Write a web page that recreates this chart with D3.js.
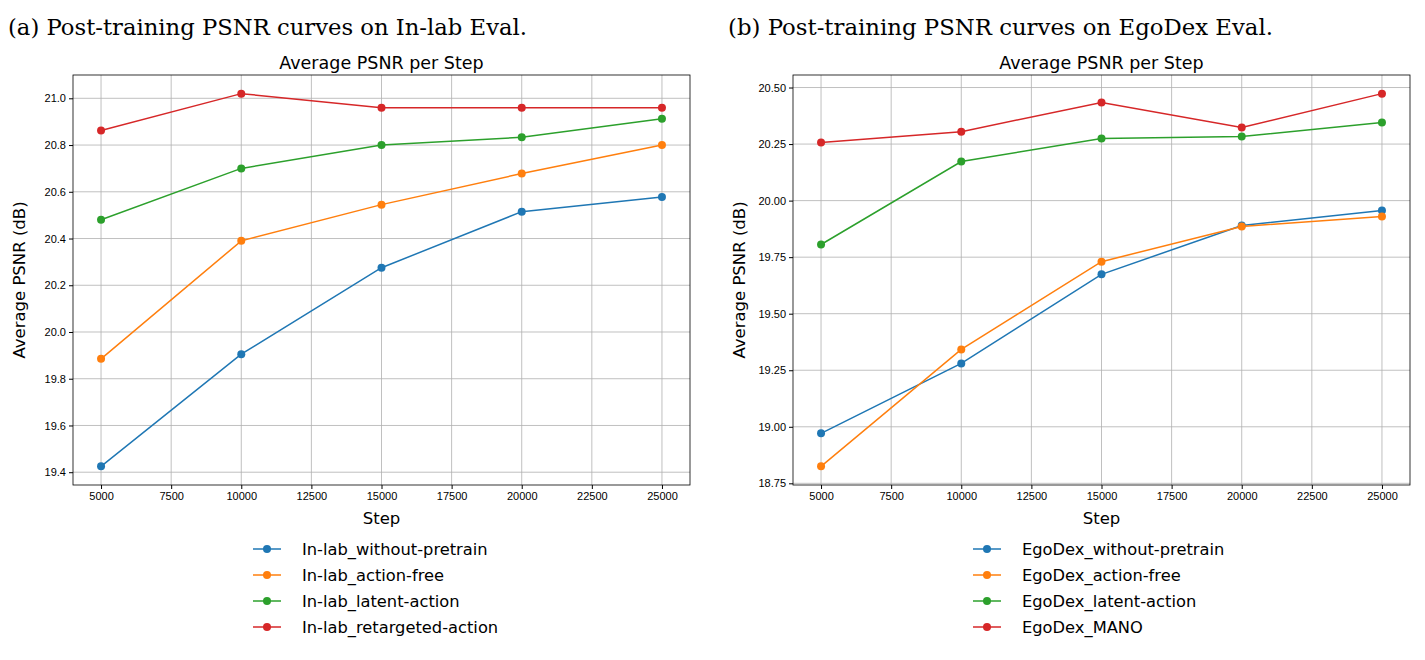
<!DOCTYPE html>
<html><head><meta charset="utf-8">
<script src="https://cdn.jsdelivr.net/npm/d3@7"></script>
<style>body{margin:0;background:#fff}</style>
</head><body>
<div class="canvas"></div>
<script>
const steps = [5000, 10000, 15000, 20000, 25000]
const xTicks = [5000, 7500, 10000, 12500, 15000, 17500, 20000, 22500, 25000]
const colors = ['#1f77b4', '#ff7f0e', '#2ca02c', '#d62728']

// left panel: In-lab
const inlabNames = ['In-lab_without-pretrain', 'In-lab_action-free', 'In-lab_latent-action', 'In-lab_retargeted-action']
const inlabWithout = [19.425, 19.905, 20.275, 20.515, 20.578]
const inlabFree = [19.885, 20.39, 20.545, 20.678, 20.80]
const inlabLatent = [20.48, 20.70, 20.80, 20.833, 20.913]
const inlabRetarget = [20.862, 21.02, 20.96, 20.96, 20.96]
const inlabYTicks = [19.4, 19.6, 19.8, 20.0, 20.2, 20.4, 20.6, 20.8, 21.0]

// right panel: EgoDex
const egoNames = ['EgoDex_without-pretrain', 'EgoDex_action-free', 'EgoDex_latent-action', 'EgoDex_MANO']
const egoWithout = [18.971, 19.28, 19.674, 19.89, 19.956]
const egoFree = [18.825, 19.342, 19.73, 19.886, 19.93]
const egoLatent = [19.806, 20.173, 20.275, 20.283, 20.345]
const egoMano = [20.257, 20.305, 20.434, 20.323, 20.473]
const egoYTicks = [18.75, 19.0, 19.25, 19.5, 19.75, 20.0, 20.25, 20.5]

const svg = d3.select('.canvas').append('svg')
    .attr('width', 1425).attr('height', 660)
    .style('font-family', 'DejaVu Sans')

function panel(left, caption, capW, series, names, yTicks, fmt, lx) {
    const x0 = left, x1 = left + 617, y0 = 75, y1 = 485
    const all = series.flat()
    const lo = d3.min(all), hi = d3.max(all), m = (hi - lo) * 0.05
    const x = d3.scaleLinear().domain([4000, 26000]).range([x0, x1])
    const y = d3.scaleLinear().domain([lo - m, hi + m]).range([y1, y0])

    svg.append('text').attr('x', left - 65).attr('y', 35)
        .attr('font-family', 'DejaVu Serif').attr('font-size', 23)
        .attr('textLength', capW).attr('lengthAdjust', 'spacingAndGlyphs')
        .text(caption)
    svg.append('text').attr('x', (x0 + x1) / 2).attr('y', 69)
        .attr('text-anchor', 'middle').attr('font-size', 17.5).text('Average PSNR per Step')

    const g = svg.append('g')
    g.selectAll('.vg').data(xTicks).join('line')
        .attr('x1', d => x(d)).attr('x2', d => x(d)).attr('y1', y0).attr('y2', y1)
        .attr('stroke', '#b0b0b0').attr('stroke-width', 0.8)
    g.selectAll('.hg').data(yTicks).join('line')
        .attr('x1', x0).attr('x2', x1).attr('y1', d => y(d)).attr('y2', d => y(d))
        .attr('stroke', '#b0b0b0').attr('stroke-width', 0.8)

    const xa = svg.append('g').attr('transform', `translate(0,${y1})`)
        .call(d3.axisBottom(x).tickValues(xTicks).tickFormat(d3.format('d')).tickSize(4).tickSizeOuter(0))
    const ya = svg.append('g').attr('transform', `translate(${x0},0)`)
        .call(d3.axisLeft(y).tickValues(yTicks).tickFormat(d3.format(fmt)).tickSize(4).tickSizeOuter(0))
    ;[xa, ya].forEach(a => { a.selectAll('text').attr('font-size', 11).attr('fill', '#000'); a.select('.domain').remove() })

    svg.append('rect').attr('x', x0).attr('y', y0).attr('width', x1 - x0).attr('height', y1 - y0)
        .attr('fill', 'none').attr('stroke', '#000').attr('stroke-width', 0.8)

    svg.append('text').attr('x', (x0 + x1) / 2).attr('y', 524).attr('text-anchor', 'middle')
        .attr('font-size', 16.5).text('Step')
    svg.append('text').attr('transform', `translate(${x0 - 48},${(y0 + y1) / 2}) rotate(-90)`)
        .attr('text-anchor', 'middle').attr('font-size', 16.5).text('Average PSNR (dB)')

    const line = d3.line().x((d, i) => x(steps[i])).y(d => y(d))
    series.forEach((s, k) => {
        svg.append('path').attr('d', line(s)).attr('fill', 'none')
            .attr('stroke', colors[k]).attr('stroke-width', 1.5)
        svg.selectAll(null).data(s).join('circle')
            .attr('cx', (d, i) => x(steps[i])).attr('cy', d => y(d)).attr('r', 4)
            .attr('fill', colors[k])
    })

    names.forEach((n, k) => {
        const yy = 549 + k * 26
        svg.append('line').attr('x1', lx - 12).attr('x2', lx + 16).attr('y1', yy).attr('y2', yy)
            .attr('stroke', colors[k]).attr('stroke-width', 1.5)
        svg.append('circle').attr('cx', lx + 2).attr('cy', yy).attr('r', 4).attr('fill', colors[k])
        svg.append('text').attr('x', lx + 37).attr('y', yy + 6).attr('font-size', 16.3).text(n)
    })
}

panel(73, '(a) Post-training PSNR curves on In-lab Eval.', 519,
    [inlabWithout, inlabFree, inlabLatent, inlabRetarget], inlabNames, inlabYTicks, '.1f', 265)
panel(793, '(b) Post-training PSNR curves on EgoDex Eval.', 545,
    [egoWithout, egoFree, egoLatent, egoMano], egoNames, egoYTicks, '.2f', 985)
</script>
</body></html>
